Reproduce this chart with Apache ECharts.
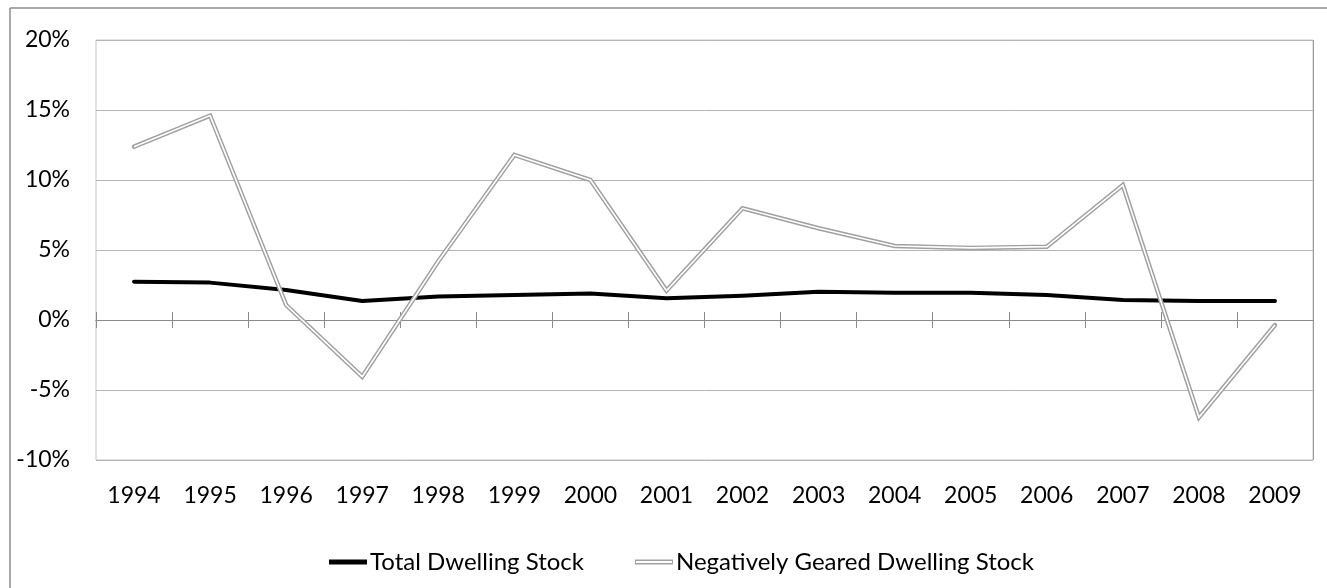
<!DOCTYPE html>
<html>
<head>
<meta charset="utf-8">
<title>Dwelling Stock Growth</title>
<script src="https://cdn.jsdelivr.net/npm/echarts@6/dist/echarts.min.js"></script>
<style>
  html, body { margin: 0; padding: 0; background: #fff; }
  #chart { width: 1327px; height: 588px; }
</style>
</head>
<body>
<div id="chart"></div>
<script>
// Annual growth, per cent
const years = ['1994', '1995', '1996', '1997', '1998', '1999', '2000', '2001',
               '2002', '2003', '2004', '2005', '2006', '2007', '2008', '2009'];
const totalStock = [2.74, 2.67, 2.14, 1.36, 1.67, 1.79, 1.90, 1.55,
                    1.74, 2.02, 1.95, 1.95, 1.79, 1.43, 1.36, 1.36];
const negGearedStock = [12.38, 14.6, 1.07, -4.05, 4.2, 11.79, 10.0, 2.1,
                        7.98, 6.55, 5.29, 5.15, 5.24, 9.64, -6.95, -0.36];
const yTicks = { min: -10, max: 20, step: 5 };

const FONT = 'Lato';
const AXIS_GREY = '#8a8a8a';
const chart = echarts.init(document.getElementById('chart'));

// Double-line glyph for the legend: an outer bar with a hollow centre
const doubleLineIcon = 'path://M0,0 H38 V5 H0 Z M1,1.6 V3.4 H37 V1.6 Z';

const gridBox = { left: 96, right: 14, top: 40, bottom: 128, outerBoundsMode: 'none', containLabel: false };
const hiddenValueAxis = (gridIndex) => ({
  gridIndex, type: 'value', min: yTicks.min, max: yTicks.max, interval: yTicks.step,
  axisLine: { show: false }, axisTick: { show: false },
  axisLabel: { show: false }, splitLine: { show: false }
});

chart.setOption({
  backgroundColor: '#ffffff',
  animation: false,
  grid: [
    Object.assign({ show: true, borderColor: '#c4c4c4', borderWidth: 1 }, gridBox),
    // twin grid carrying the downward half of the crossing ticks on the zero line
    Object.assign({ show: false }, gridBox)
  ],
  legend: {
    left: 324, top: 545,
    itemWidth: 38, itemHeight: 5, itemGap: 51,
    symbolKeepAspect: false,
    textStyle: { fontFamily: FONT, fontSize: 24, color: '#000', padding: [0, 0, 0, -2] },
    data: [
      { name: 'Total Dwelling Stock', icon: 'rect', itemStyle: { color: '#000' } },
      { name: 'Negatively Geared Dwelling Stock', icon: doubleLineIcon, itemStyle: { color: '#a0a0a0' } }
    ]
  },
  xAxis: [
    {
      // category labels along the bottom of the plot
      gridIndex: 0, type: 'category', data: years, position: 'bottom', boundaryGap: true,
      axisLine: { show: false, onZero: false }, axisTick: { show: false },
      axisLabel: { margin: 24, fontFamily: FONT, fontSize: 23, color: '#000', interval: 0 },
      splitLine: { show: false }
    },
    {
      // zero line with upward ticks
      gridIndex: 0, type: 'category', data: years, position: 'top', boundaryGap: true,
      axisLine: { show: true, onZero: true, lineStyle: { color: AXIS_GREY, width: 1 } },
      axisTick: { show: true, length: 8, lineStyle: { color: AXIS_GREY } },
      axisLabel: { show: false }, splitLine: { show: false }
    },
    {
      // downward ticks on the zero line
      gridIndex: 1, type: 'category', data: years, position: 'bottom', boundaryGap: true,
      axisLine: { show: true, onZero: true, lineStyle: { color: AXIS_GREY, width: 1 } },
      axisTick: { show: true, length: 8, lineStyle: { color: AXIS_GREY } },
      axisLabel: { show: false }, splitLine: { show: false }
    }
  ],
  yAxis: [
    {
      gridIndex: 0, type: 'value', min: yTicks.min, max: yTicks.max, interval: yTicks.step,
      axisLine: { show: false }, axisTick: { show: false },
      axisLabel: { formatter: '{value}%', margin: 26, fontFamily: FONT, fontSize: 23, color: '#000' },
      splitLine: { lineStyle: { color: '#b4b4b4', width: 1 } }
    },
    hiddenValueAxis(1)
  ],
  series: [
    {
      name: 'Total Dwelling Stock', type: 'line', data: totalStock,
      xAxisIndex: 0, yAxisIndex: 0,
      showSymbol: false, symbol: 'none',
      lineStyle: { color: '#000', width: 4, cap: 'round', join: 'round' },
      itemStyle: { color: '#000' }, z: 2
    },
    {
      name: 'Negatively Geared Dwelling Stock', type: 'line', data: negGearedStock,
      xAxisIndex: 0, yAxisIndex: 0,
      showSymbol: false, symbol: 'none',
      lineStyle: { color: '#a0a0a0', width: 4.5, cap: 'round', join: 'miter' },
      itemStyle: { color: '#a0a0a0' }, z: 3
    },
    {
      // white core that turns the grey stroke into a double line
      name: 'core', type: 'line', data: negGearedStock,
      xAxisIndex: 0, yAxisIndex: 0,
      showSymbol: false, symbol: 'none', silent: true,
      lineStyle: { color: '#ffffff', width: 1.6, cap: 'butt', join: 'miter' },
      itemStyle: { color: '#ffffff' }, z: 4
    }
  ],
  graphic: [
    // outer frame (top and left edges)
    { type: 'line', shape: { x1: 10, y1: 8, x2: 1327, y2: 8 },
      style: { stroke: '#8c8c8c', lineWidth: 1.5 }, z: 10 },
    { type: 'line', shape: { x1: 10, y1: 8, x2: 10, y2: 588 },
      style: { stroke: '#8c8c8c', lineWidth: 1.5 }, z: 10 },
    // darker right edge of the plot area
    { type: 'line', shape: { x1: 1313.5, y1: 40, x2: 1313.5, y2: 460 },
      style: { stroke: '#9a9a9a', lineWidth: 1 }, z: 10 }
  ]
});
</script>
</body>
</html>
